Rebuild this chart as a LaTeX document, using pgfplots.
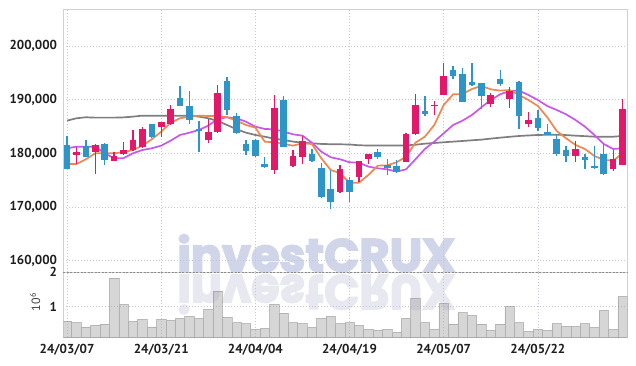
\documentclass[border=0pt]{standalone}
\usepackage{pgfplots}
\pgfplotsset{compat=1.18}
\usepackage{pgfplotstable}
\usepackage{graphicx}
\usepackage{fontspec}
\setmainfont{PT Sans}
\newfontfamily\wmfont{Poppins}[FakeBold=3.5]

\definecolor{upc}{HTML}{E2196A}
\definecolor{dnc}{HTML}{2E95C8}
\definecolor{maA}{HTML}{EE8750}
\definecolor{maB}{HTML}{C957E8}
\definecolor{maC}{HTML}{7E7E7E}
\definecolor{gridc}{HTML}{C3C6DC}
\definecolor{framec}{HTML}{D0D0D6}
\definecolor{volf}{HTML}{ADADAD}
\definecolor{vold}{HTML}{8C8C8C}
\definecolor{wm}{HTML}{D0D5EA}
\definecolor{wmr}{HTML}{E8E8F0}
\definecolor{txt}{HTML}{1E1E1E}

\pgfplotstableread{
x o h l c
1 179700 181200 178000 180300
3 180250 181800 176100 181600
5 178650 180250 178500 179450
6 179900 182100 179650 180700
7 180700 184350 180350 182550
8 181200 184900 181050 184450
10 184950 185900 183100 185800
11 185450 188950 185350 188200
15 182500 186350 182000 183900
16 184000 192800 183850 191200
22 176850 190950 176100 188500
24 177650 180700 177500 179450
25 179300 183250 178000 182250
29 172800 177750 172650 177150
31 175600 178650 174650 178650
32 178850 179900 178000 179850
36 178400 183850 178400 183650
37 183550 191100 183350 188950
39 188750 189700 187200 188950
40 190950 196900 190800 194350
45 189150 191300 188650 190950
47 190050 192350 188450 191550
49 185450 187700 184900 186150
54 179500 182250 178400 180850
58 177150 180550 176700 179000
59 177900 190050 177900 188200
}\upT

\pgfplotstableread{
x o h l c
0 181500 183200 177000 177100
2 181300 182550 179250 179300
4 181800 182000 177750 178750
9 185400 185550 182850 183000
12 190300 192500 188800 188800
13 188750 191550 185550 186250
14 184550 185950 180250 184150
17 193400 194200 187100 188100
18 186900 187600 183650 183800
19 181700 182400 179650 180450
20 182450 182700 179400 179500
21 178000 179300 177350 177450
23 190000 190700 181100 181200
26 179950 180750 178400 178500
27 177350 178250 171700 171800
28 173300 176850 169700 170950
30 174950 175600 170950 172800
33 180200 180750 179000 179300
34 177750 178900 176050 177300
35 177600 178750 176400 176500
38 187850 190700 186950 187250
41 195450 196200 193800 194400
42 194700 195950 189550 189550
43 193250 196900 192500 192650
44 193050 193050 188300 190700
46 193800 195450 192550 192850
48 193300 193400 184600 186900
50 186600 188000 184100 184700
51 183900 185550 183350 183500
52 182600 183650 179500 179800
53 180550 181350 178400 179500
55 179250 179950 177150 178750
56 177600 181350 177150 177250
57 179800 181850 176050 176100
}\dnT

\pgfplotstableread{
x a b g
0 178020 180940 186090
1 178020 181240 186530
2 178890 181240 186720
3 180010 181240 186650
4 180010 180010 186650
5 180010 179080 186650
6 180200 179100 186700
7 180620 180010 186840
8 181430 180620 187020
9 182620 180940 187020
10 184040 181430 187020
11 185710 182360 187020
12 186530 183420 187020
13 186840 183850 187020
14 187020 184350 186840
15 186960 185160 186530
16 186960 186400 186030
17 186720 186720 185280
18 186090 186530 184480
19 185280 185900 183850
20 184780 184970 183420
21 182170 184540 183100
22 182060 184480 182730
23 181740 184040 182490
24 181430 183540 182180
25 181870 183290 181990
26 181740 181990 181870
27 179080 180320 181750
28 176900 179260 181700
29 176280 178890 181680
30 174530 178330 181650
31 174530 178270 181500
32 175970 177520 181460
33 177700 177210 181460
34 177760 177020 181460
35 178330 176590 181460
36 179380 177020 181480
37 181990 178890 181600
38 183100 180810 181800
39 185280 182180 181930
40 189010 183730 182060
41 191000 185280 182180
42 191060 186090 182300
43 191990 187150 182430
44 192550 188580 182550
45 191930 189940 182740
46 191680 191000 182920
47 191800 191620 183080
48 190870 191680 183230
49 189940 190870 183330
50 188820 189940 183420
51 186720 188820 183450
52 184170 188080 183480
53 182800 187270 183400
54 181560 186210 183290
55 180810 184970 183200
56 179510 183420 183100
57 178760 181740 183100
58 178630 180810 183100
59 180010 180940 183230
}\maT

\pgfplotstableread{
x v
0 0.58
1 0.54
2 0.41
3 0.46
4 0.49
5 1.83
6 1.07
7 0.57
8 0.63
9 0.41
10 0.63
11 0.60
12 0.66
13 0.72
14 0.66
15 0.92
16 1.45
17 0.69
18 0.54
19 0.51
20 0.34
21 0.37
22 1.07
23 0.81
24 0.54
25 0.51
26 0.40
27 0.66
28 0.72
29 0.51
30 0.54
31 0.46
32 0.34
33 0.31
34 0.34
35 0.25
36 0.66
37 1.24
38 0.54
39 0.34
40 1.10
41 0.49
42 0.83
43 0.75
44 0.49
45 0.31
46 0.49
47 1.01
48 0.54
49 0.28
50 0.34
51 0.31
52 0.51
53 0.43
54 0.43
55 0.51
56 0.40
57 0.89
58 0.34
59 1.30
}\volT

\pgfplotsset{
  common/.style={
    scale only axis, width=564bp,
    xmin=-0.4, xmax=59.5,
    xtick={0,10,20,30,40,50},
    major tick length=0pt,
    grid=major,
    major grid style={draw=gridc, line width=0.6bp, dash pattern=on 1bp off 2bp},
    axis line style={draw=framec, line width=0.8bp},
    scaled y ticks=false,
    yticklabel style={font=\fontsize{13bp}{14bp}\selectfont\bfseries, text=txt, anchor=east, inner sep=0pt, xshift=-6bp},
  },
  candle/.style 2 args={draw=none, mark=none, forget plot,
    error bars/.cd, y dir=plus, y explicit, error mark=none,
    error bar style={line width=#1, draw=#2}},
}

\begin{document}
\begin{tikzpicture}
\useasboundingbox (0,0) rectangle (636bp,366bp);

% watermark (drawn first, underneath)
\node[anchor=base west, inner sep=0pt, text=wm] at (177bp,94.5bp)
  {\resizebox{278bp}{37bp}{\wmfont\bfseries investCRUX}};
\node[anchor=base west, inner sep=0pt, text=wmr] at (177bp,91bp)
  {\scalebox{1}[-1]{\resizebox{278bp}{39bp}{\wmfont\bfseries investCRUX}}};

% price panel
\begin{axis}[common,
  at={(63.3bp,93.7bp)}, anchor=south west, height=263bp,
  ymin=157830, ymax=206840,
  ytick={160000,170000,180000,190000,200000},
  yticklabels={{160,000},{170,000},{180,000},{190,000},{200,000}},
  xticklabels={},
]
\addplot[maC, line width=1.7bp] table[x=x,y=g]{\maT};
\addplot[maB, line width=1.7bp] table[x=x,y=b]{\maT};
\addplot[maA, line width=1.7bp] table[x=x,y=a]{\maT};
% wicks
\addplot[candle={1.3bp}{upc}]
  table[x=x, y=l, y error expr=\thisrow{h}-\thisrow{l}]{\upT};
\addplot[candle={1.3bp}{dnc}]
  table[x=x, y=l, y error expr=\thisrow{h}-\thisrow{l}]{\dnT};
% bodies
\addplot[candle={6.6bp}{upc}]
  table[x=x, y=o, y error expr=\thisrow{c}-\thisrow{o}]{\upT};
\addplot[candle={6.6bp}{dnc}]
  table[x=x, y=c, y error expr=\thisrow{o}-\thisrow{c}]{\dnT};
\end{axis}

% volume panel
\begin{axis}[common,
  at={(63.3bp,28.7bp)}, anchor=south west, height=65bp,
  ymin=0.11, ymax=2,
  ytick={1}, yticklabels={1},
  extra y ticks={2}, extra y tick labels={2},
  extra y tick style={grid=major, major grid style={draw=black!45, line width=0.7bp, dash pattern=on 2bp off 1.5bp}},
  xticklabels={24/03/07,24/03/21,24/04/04,24/04/19,24/05/07,24/05/22},
  xticklabel style={font=\fontsize{13bp}{14bp}\selectfont\bfseries, text=txt, anchor=north, inner sep=0pt, yshift=-6.5bp},
]
\addplot[ybar, bar width=9.42bp, bar shift=0pt, fill=volf, fill opacity=0.5, draw=vold, draw opacity=0.5, line width=0.6bp] table[x=x,y=v]{\volT};
\end{axis}

\node[rotate=90, text=txt!85, inner sep=0pt, font=\fontsize{12bp}{12bp}\selectfont] at (35bp,64bp) {10\textsuperscript{6}};
\end{tikzpicture}
\end{document}
